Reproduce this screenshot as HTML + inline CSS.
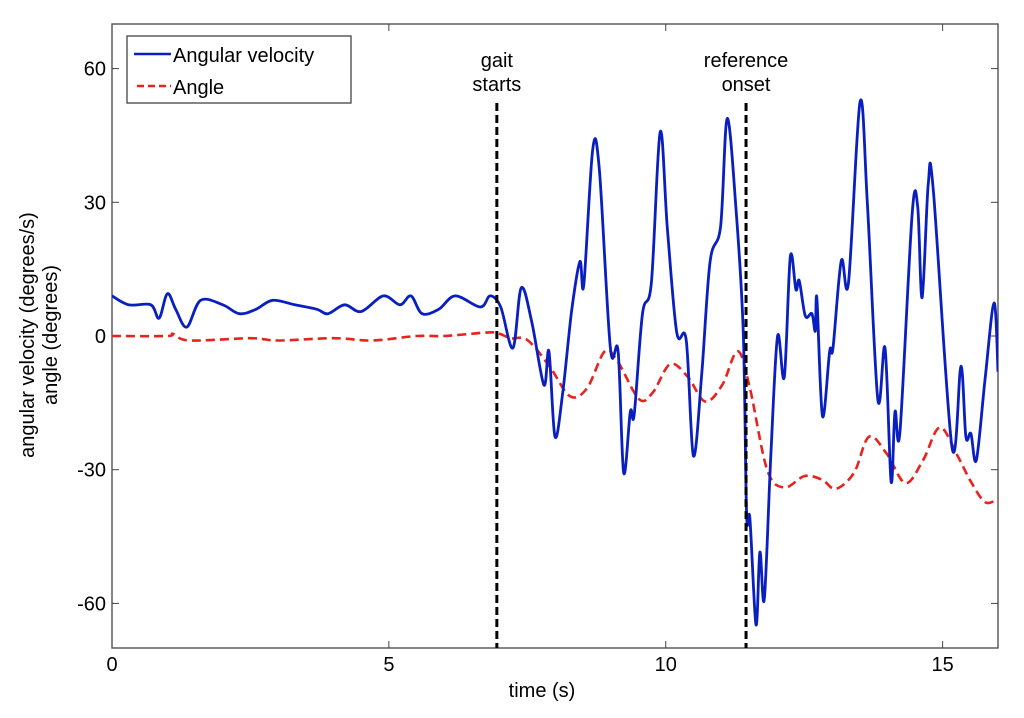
<!DOCTYPE html>
<html><head><meta charset="utf-8"><style>
body{margin:0;background:#fff;}
svg text{font-family:"Liberation Sans",Arial,sans-serif;fill:#000;}
</style></head><body>
<svg id="chart" width="1024" height="713" xmlns="http://www.w3.org/2000/svg">
<rect x="0" y="0" width="1024" height="713" fill="#fff"/>
<g id="plot"></g>
</svg>
<script>
const xTicks=[0,5,10,15];
const yTicks=[60,30,0,-30,-60];
const velT=[0,0.3,0.7,0.85,1.0,1.15,1.35,1.6,2.0,2.3,2.6,2.9,3.3,3.7,3.9,4.2,4.5,4.9,5.2,5.4,5.6,5.9,6.2,6.65,6.83,7.02,7.24,7.39,7.58,7.8,7.89,8.0,8.14,8.3,8.45,8.52,8.68,8.8,9.0,9.14,9.24,9.36,9.43,9.58,9.74,9.9,10.03,10.2,10.37,10.5,10.65,10.8,10.99,11.11,11.27,11.4,11.46,11.52,11.63,11.7,11.78,11.9,12.02,12.14,12.25,12.35,12.41,12.52,12.64,12.7,12.73,12.83,12.96,13.02,13.17,13.3,13.51,13.64,13.83,13.96,14.07,14.14,14.23,14.45,14.55,14.63,14.74,14.83,15.17,15.33,15.42,15.51,15.61,15.77,15.93,16.0];
const velV=[9,7,7,4,9.5,6,2,8,7,5,6,8,7,6,5,7,5.5,9,7,9,5,6,9,6.5,9,6.5,-2.7,10.8,3.2,-11,-3.4,-22.6,-12.6,5.6,16.7,11.5,41.8,37.5,-2.7,-3.4,-30.7,-17,-17.6,5,12,45.8,24,0.7,-0.9,-26.9,-8.6,16.7,24.6,48.8,28.2,0.7,-40,-41,-64.8,-48.5,-59,-26,0,-9.2,17.8,10.4,12.4,4.5,5,1.1,8.4,-18,-3.4,-2.7,16.9,12,52.6,30,-14.2,-2.7,-32.7,-17,-21.4,27.5,29,8.6,34,33,-25,-6.8,-22.6,-21.9,-27.8,-9.2,7.4,-8];
const angT=[0,1.0,1.1,1.4,2.5,3.0,4.0,4.7,5.5,6.0,6.8,7.0,7.2,7.5,7.9,8.27,8.58,8.9,9.14,9.52,9.77,10.08,10.4,10.71,11.02,11.3,11.52,11.83,12.14,12.51,12.83,13.07,13.4,13.67,13.99,14.33,14.65,14.95,15.27,15.51,15.77,16.0];
const angV=[0,0,0.5,-1,-0.5,-1,-0.5,-1,0,0,0.8,0.5,-0.5,-0.9,-6.8,-13.5,-11.7,-3.4,-5.9,-14.2,-12.6,-6.3,-9.2,-14.7,-11,-3.4,-11.7,-30,-34,-31.4,-32.3,-34.3,-30.7,-22.6,-26.4,-33,-27.8,-20.5,-26.9,-32.7,-37.3,-36.5];
const events=[6.95,11.45];
const eventLabels=[["gait","starts"],["reference","onset"]];

const X0=112,X1=998,Y0=24,Y1=648,xMin=0,xMax=16,yMin=-70,yMax=70;
const sx=t=>X0+(t-xMin)/(xMax-xMin)*(X1-X0);
const sy=v=>Y1-(v-yMin)/(yMax-yMin)*(Y1-Y0);
const NS="http://www.w3.org/2000/svg";
const g=document.getElementById('plot');
function mk(tag,attrs,parent){const e=document.createElementNS(NS,tag);for(const k in attrs)e.setAttribute(k,attrs[k]);(parent||g).appendChild(e);return e;}
function smooth(ts,vs){
  const p=ts.map((t,i)=>[sx(t),sy(vs[i])]);
  let d='M'+p[0][0]+','+p[0][1];
  for(let i=0;i<p.length-1;i++){
    const p0=p[Math.max(0,i-1)],p1=p[i],p2=p[i+1],p3=p[Math.min(p.length-1,i+2)];
    const c1=[p1[0]+(p2[0]-p0[0])/6,p1[1]+(p2[1]-p0[1])/6];
    const c2=[p2[0]-(p3[0]-p1[0])/6,p2[1]-(p3[1]-p1[1])/6];
    d+=' C'+c1[0].toFixed(1)+','+c1[1].toFixed(1)+' '+c2[0].toFixed(1)+','+c2[1].toFixed(1)+' '+p2[0].toFixed(1)+','+p2[1].toFixed(1);
  }
  return d;
}

const frame=mk('rect',{x:X0,y:Y0,width:X1-X0,height:Y1-Y0,fill:'none',stroke:'#444','stroke-width':1.3});



xTicks.forEach(t=>{
  const x=sx(t);
  const l1=mk('line',{x1:x,y1:Y1,x2:x,y2:Y1-7,stroke:'#444'});
  
  
  const l2=mk('line',{x1:x,y1:Y0,x2:x,y2:Y0+7,stroke:'#444'});
  
  
  const tx=mk('text',{x:x,y:Y1+23,'font-size':20,'text-anchor':'middle'});
  tx.textContent=t;
  
  
});
yTicks.forEach(v=>{
  const y=sy(v);
  const l1=mk('line',{x1:X0,y1:y,x2:X0+7,y2:y,stroke:'#444'});
  
  
  const l2=mk('line',{x1:X1,y1:y,x2:X1-7,y2:y,stroke:'#444'});
  
  
  const tx=mk('text',{x:X0-6,y:y+7,'font-size':20,'text-anchor':'end'});
  tx.textContent=v;
  
  
});

const xl=mk('text',{x:542,y:697,'font-size':20,'text-anchor':'middle'});
xl.textContent='time (s)';


const yl1=mk('text',{x:0,y:0,'font-size':20,'text-anchor':'middle',transform:'translate(34,335) rotate(-90)'});
yl1.textContent='angular velocity (degrees/s)';


const yl2=mk('text',{x:0,y:0,'font-size':20,'text-anchor':'middle',transform:'translate(57,335) rotate(-90)'});
yl2.textContent='angle (degrees)';



const clip=mk('clipPath',{id:'cp'});
mk('rect',{x:X0,y:Y0,width:X1-X0,height:Y1-Y0},clip);

const ang=mk('path',{d:smooth(angT,angV),fill:'none',stroke:'#e8221c','stroke-width':2.6,'stroke-dasharray':'9,5','clip-path':'url(#cp)'});


const vel=mk('path',{d:smooth(velT,velV),fill:'none',stroke:'#0a1fbf','stroke-width':2.8,'stroke-linejoin':'round','clip-path':'url(#cp)'});



events.forEach((t,i)=>{
  const x=sx(t);
  const l=mk('line',{x1:x,y1:103,x2:x,y2:Y1,stroke:'#000','stroke-width':3,'stroke-dasharray':'8,4'});
  
  
  eventLabels[i].forEach((s,j)=>{
    const tx=mk('text',{x:x,y:67+j*24,'font-size':20,'text-anchor':'middle'});
    tx.textContent=s;
    
    
  });
});

const lg=mk('g',{});


mk('rect',{x:127,y:36,width:224,height:67,fill:'#fff',stroke:'#444','stroke-width':1.3},lg);
mk('line',{x1:134,y1:54,x2:171,y2:54,stroke:'#0a1fbf','stroke-width':2.5},lg);
mk('line',{x1:137,y1:86,x2:171,y2:86,stroke:'#e8221c','stroke-width':2.5,'stroke-dasharray':'7,4'},lg);
const le1=mk('text',{x:173,y:62,'font-size':20},lg);
le1.textContent='Angular velocity';


const le2=mk('text',{x:173,y:94,'font-size':20},lg);
le2.textContent='Angle';


</script>
</body></html>
